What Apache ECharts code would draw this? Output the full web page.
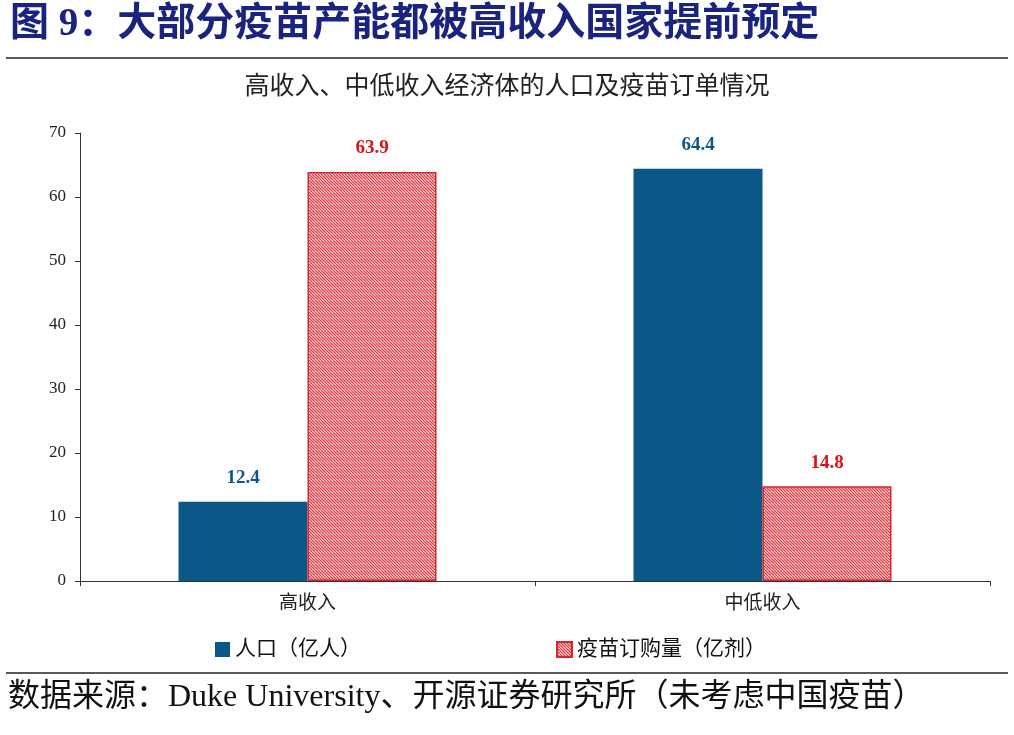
<!DOCTYPE html>
<html><head><meta charset="utf-8">
<script src="https://cdn.jsdelivr.net/npm/echarts@6/dist/echarts.min.js"></script>
<style>body{margin:0;background:#fff}#c{width:1014px;height:735px}</style>
</head><body><div id="c"></div>
<script>
const categories = ['高收入', '中低收入'];
const population = [12.4, 64.4];
const vaccineOrders = [63.9, 14.8];
const seriesNames = ['人口（亿人）', '疫苗订购量（亿剂）'];

const pc = document.createElement('canvas');
pc.width = 6; pc.height = 6;
const g = pc.getContext('2d');
g.fillStyle = '#fff'; g.fillRect(0,0,6,6);
g.strokeStyle = '#d9363e'; g.lineWidth = 1.3;
for (let k=-6;k<=12;k+=3){ g.beginPath(); g.moveTo(k,0); g.lineTo(k+6,6); g.stroke(); }
const hatch = {image: pc, repeat: 'repeat'};

const chart = echarts.init(document.getElementById('c'));
const cjk = '"Liberation Serif","Noto Sans CJK SC",serif';
chart.setOption({
  animation:false,
  textStyle:{fontFamily:cjk},
  title:{text:'高收入、中低收入经济体的人口及疫苗订单情况', left:'center', top:70,
    textStyle:{fontSize:25, fontWeight:'normal', color:'#222', fontFamily:cjk}},
  grid:{left:80, right:24, top:133, bottom:154},
  legend:{bottom:70, left:210, itemGap:195, itemWidth:15, itemHeight:15, icon:'rect',
    textStyle:{fontSize:21, color:'#111'}, data:seriesNames},
  xAxis:{type:'category', data:categories, axisTick:{show:true, alignWithLabel:false, length:5, lineStyle:{color:'#333'}},
    axisLine:{lineStyle:{color:'#333'}}, axisLabel:{fontSize:19, color:'#222', margin:14}},
  yAxis:{type:'value', min:0, max:70, interval:10, splitLine:{show:false},
    axisLine:{show:true, lineStyle:{color:'#333'}}, axisTick:{show:true, length:5, lineStyle:{color:'#333'}},
    axisLabel:{fontSize:17, color:'#222', margin:14}},
  series:[
    {name:seriesNames[0], type:'bar', data:population, barWidth:129, barGap:'0%',
     itemStyle:{color:'#0b5788'},
     label:{show:true, position:'top', distance:14, fontSize:19, fontWeight:'bold', color:'#0b5788'}},
    {name:seriesNames[1], type:'bar', data:vaccineOrders, barWidth:129,
     itemStyle:{color:hatch, borderColor:'#d9262e', borderWidth:1.5},
     label:{show:true, position:'top', distance:14, fontSize:19, fontWeight:'bold', color:'#e0101a'}}
  ],
  graphic:[
    {type:'text', left:10, top:5, style:{text:'图 9：大部分疫苗产能都被高收入国家提前预定', fontSize:39, fontWeight:'bold', fill:'#1a237e', fontFamily:cjk}},
    {type:'line', shape:{x1:6,y1:58,x2:1008,y2:58}, style:{stroke:'#222', lineWidth:1.5}},
    {type:'line', shape:{x1:6,y1:673,x2:1008,y2:673}, style:{stroke:'#222', lineWidth:1.5}},
    {type:'text', left:8, top:682, style:{text:'数据来源：Duke University、开源证券研究所（未考虑中国疫苗）', fontSize:32, fill:'#111', fontFamily:cjk}}
  ]
});
</script></body></html>
